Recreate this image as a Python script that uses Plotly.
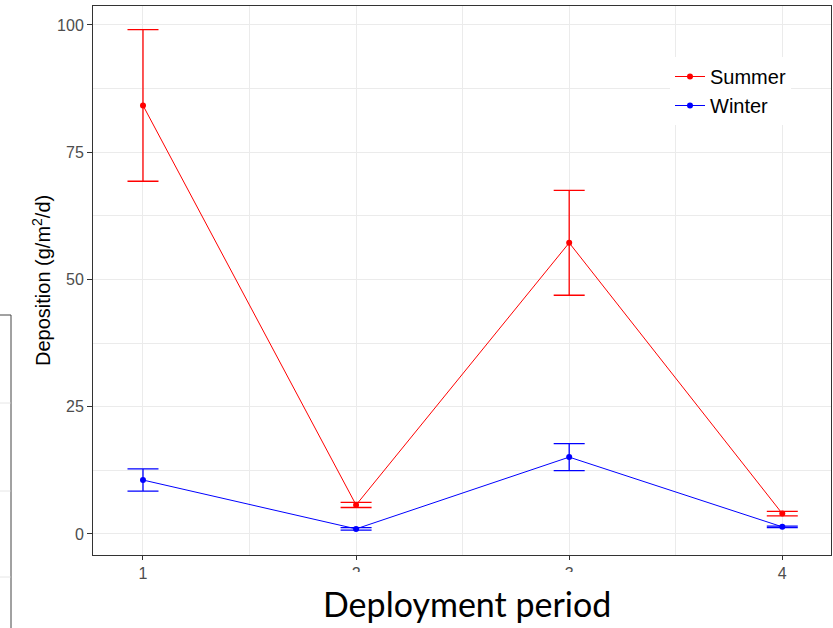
import plotly.graph_objects as go

# Deposition means and standard errors per deployment period
periods = [1, 2, 3, 4]
summer_mean = [84.2, 5.7, 57.2, 4.0]
summer_se = [14.9, 0.5, 10.3, 0.45]
winter_mean = [10.6, 1.0, 15.1, 1.4]
winter_se = [2.2, 0.25, 2.65, 0.15]
y_ticks = [0, 25, 50, 75, 100]

W, H = 833, 628
L, R, T, B = 93, 2, 6, 73
pw, ph = W - L - R, H - T - B


def px_x(p):
    return (p - L) / pw


def px_y(p):
    return (H - B - p) / ph


fig = go.Figure()

for name, mean, se, color in [
    ("Summer", summer_mean, summer_se, "#FF0000"),
    ("Winter", winter_mean, winter_se, "#0000FF"),
]:
    fig.add_trace(go.Scatter(
        x=periods, y=mean, name=name, mode="lines+markers",
        line=dict(color=color, width=1),
        marker=dict(color=color, size=6),
        error_y=dict(type="data", array=se, visible=True, color=color,
                     thickness=1.3, width=15.5),
    ))

grid = "#EBEBEB"
fig.update_xaxes(
    range=[0.7654, 4.2286], tickvals=periods, ticktext=[str(p) for p in periods],
    showgrid=True, gridcolor=grid, gridwidth=1.1,
    minor=dict(tickvals=[1.5, 2.5, 3.5], showgrid=True, gridcolor=grid, gridwidth=0.6),
    ticks="outside", ticklen=4, tickcolor="#333333", tickwidth=1,
    tickfont=dict(family="Liberation Sans", size=16, color="#4D4D4D"),
    showline=True, linecolor="#333333", linewidth=1, mirror=True, zeroline=False,
)
fig.update_yaxes(
    range=[-4.13, 103.73], tickvals=y_ticks, ticktext=[str(v) for v in y_ticks],
    showgrid=True, gridcolor=grid, gridwidth=1.1,
    minor=dict(tickvals=[12.5, 37.5, 62.5, 87.5], showgrid=True, gridcolor=grid, gridwidth=0.6),
    ticks="outside", ticklen=5, tickcolor="#333333", tickwidth=1,
    tickfont=dict(family="Liberation Sans", size=16, color="#4D4D4D"),
    showline=True, linecolor="#333333", linewidth=1, mirror=True, zeroline=False,
)

shapes = [
    # white patch behind the x-axis title
    dict(type="rect", xref="paper", yref="paper", layer="above",
         x0=px_x(300), x1=px_x(640), y0=px_y(628), y1=px_y(572),
         fillcolor="white", line=dict(width=0)),
    # framed panel fragment on the left edge
    dict(type="rect", xref="paper", yref="paper", layer="above",
         x0=px_x(-5), x1=px_x(11), y0=px_y(640), y1=px_y(315),
         fillcolor="rgba(0,0,0,0)", line=dict(color="#444444", width=1)),
]
for gy in [403, 491, 577]:
    shapes.append(dict(type="line", xref="paper", yref="paper", layer="above",
                       x0=px_x(0), x1=px_x(10.5), y0=px_y(gy), y1=px_y(gy),
                       line=dict(color="#E6E6E6", width=1)))

annotations = [
    dict(text="Deployment period", xref="paper", yref="paper",
         x=px_x(467), y=px_y(603.5), xanchor="center", yanchor="middle",
         showarrow=False, font=dict(family="Lato", size=34, color="black")),
    dict(text="Deposition (g/m<sup>2</sup>/d)", xref="paper", yref="paper",
         x=px_x(41), y=px_y(281), xanchor="center", yanchor="middle",
         textangle=-90, showarrow=False,
         font=dict(family="Liberation Sans", size=20, color="black")),
]

fig.update_layout(
    width=W, height=H, margin=dict(l=L, r=R, t=T, b=B, autoexpand=False),
    paper_bgcolor="white", plot_bgcolor="white",
    showlegend=True,
    legend=dict(x=px_x(670), y=px_y(57), xanchor="left", yanchor="top",
                bgcolor="white", borderwidth=0, itemwidth=30,
                font=dict(family="Liberation Sans", size=20, color="black")),
    shapes=shapes, annotations=annotations,
)

fig.write_html("out.html")
